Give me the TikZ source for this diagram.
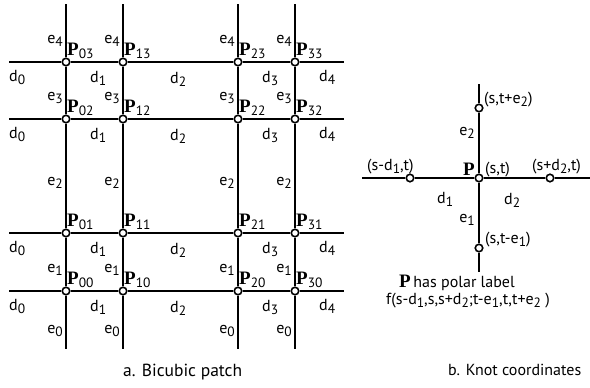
\documentclass[tikz,border=0pt]{standalone}
\usepackage{fontspec}
\setmainfont{PT Sans}
\newfontfamily\pfont{Liberation Serif}
\newcommand\lo[1]{\raisebox{-0.45ex}{\fontsize{13.5}{13.5}\selectfont #1}}
\newcommand\PP[1]{{\fontsize{19}{19}\selectfont\pfont\bfseries P}\lo{#1}}
\begin{document}
\begin{tikzpicture}[x=1pt,y=-1pt,
  txt/.style={inner sep=0pt,font=\fontsize{16}{16}\selectfont},
  lw/.style={txt,anchor=base west},
  le/.style={txt,anchor=base east},
  knot/.style={circle,draw,line width=1.6pt,fill=white,minimum size=7.5pt,inner sep=0pt},
  gline/.style={line width=1.5pt}]
\useasboundingbox (0,0) rectangle (590,388);
% grid coordinates
\def\Xa{66}\def\Xb{123}\def\Xc{238}\def\Xd{295}
\def\Ya{291}\def\Yb{233}\def\Yc{119}\def\Yd{62}
% free ends
\foreach \j/\y in {0/\Ya,1/\Yb,2/\Yc,3/\Yd}{
  \coordinate (L\j) at (9,\y);
  \coordinate (R\j) at (344,\y);
}
\foreach \i/\x in {0/\Xa,1/\Xb,2/\Xc,3/\Xd}{
  \coordinate (T\i) at (\x,4);
  \coordinate (B\i) at (\x,349);
}
\foreach \i/\x in {0/\Xa,1/\Xb,2/\Xc,3/\Xd}{
  \foreach \j/\y in {0/\Ya,1/\Yb,2/\Yc,3/\Yd}{
    \node[knot] (p\i\j) at (\x,\y) {};
  }
}
\foreach \j in {0,1,2,3}{
  \draw[gline] (L\j) -- (p0\j) -- (p1\j) -- (p2\j) -- (p3\j) -- (R\j);
}
\foreach \i in {0,1,2,3}{
  \draw[gline] (T\i) -- (p\i3) -- (p\i2) -- (p\i1) -- (p\i0) -- (B\i);
}
% P labels
\foreach \i/\x in {0/\Xa,1/\Xb,2/\Xc,3/\Xd}{
  \foreach \j/\y in {0/\Ya,1/\Yb,2/\Yc,3/\Yd}{
    \node[lw] (lp\i\j) at (\x+1,\y-7) {\PP{\i\j}};
  }
}
% e labels
\foreach \i/\x in {0/\Xa,1/\Xb,2/\Xc,3/\Xd}{
  \node[le] (e4\i) at (\x-3,43) {e\lo{4}};
  \node[le] (e3\i) at (\x-3,100) {e\lo{3}};
  \node[le] (e2\i) at (\x-3,185) {e\lo{2}};
  \node[le] (e1\i) at (\x-3,272) {e\lo{1}};
  \node[le] (e0\i) at (\x-3,333) {e\lo{0}};
}
% d labels
\foreach \j/\y in {0/\Ya,1/\Yb,2/\Yc,3/\Yd}{
  \node[lw] (d0\j) at (9,\y+19) {d\lo{0}};
  \node[lw] (d1\j) at (90,\y+20) {d\lo{1}};
  \node[lw] (d2\j) at (170,\y+21) {d\lo{2}};
  \node[lw] (d3\j) at (262,\y+20) {d\lo{3}};
  \node[lw] (d4\j) at (319,\y+19) {d\lo{4}};
}
\node[lw,font=\fontsize{17.5}{17.5}\selectfont] (capa) at (123,376) {a. Bicubic patch};
% right figure
\coordinate (hl) at (362,178);
\coordinate (hr) at (590,178);
\coordinate (ht) at (479,84);
\coordinate (hb) at (479,272);
\node[knot] (k) at (479,178) {};
\node[knot] (kl) at (410,178) {};
\node[knot] (kr) at (550,178) {};
\node[knot] (kt) at (479,108) {};
\node[knot] (kb) at (479,248) {};
\draw[gline] (hl) -- (kl) -- (k) -- (kr) -- (hr);
\draw[gline] (ht) -- (kt) -- (k) -- (kb) -- (hb);
\node[lw] (lt) at (484,103) {(s,t+e\lo{2})};
\node[le] (le2) at (475,135) {e\lo{2}};
\node[txt,anchor=base east] (lP) at (475,175) {{\fontsize{19}{19}\selectfont\pfont\bfseries P}};
\node[lw] (lst) at (485,173) {(s,t)};
\node[lw] (ll) at (367,170) {(s-d\lo{1},t)};
\node[lw] (lr) at (532,170) {(s+d\lo{2},t)};
\node[lw] (ld1) at (437,203) {d\lo{1}};
\node[lw] (ld2) at (504,204) {d\lo{2}};
\node[le] (le1) at (475,222) {e\lo{1}};
\node[lw] (lb) at (485,243) {(s,t-e\lo{1})};
\node[lw] (pol) at (399,287) {{\fontsize{19}{19}\selectfont\pfont\bfseries P}\,has polar label};
\node[lw] (fl) at (386,304) {f(s-d\lo{1},s,s+d\lo{2};t-e\lo{1},t,t+e\lo{2} )};
\node[lw] (capb) at (448,375) {b. Knot coordinates};
\end{tikzpicture}
\end{document}
